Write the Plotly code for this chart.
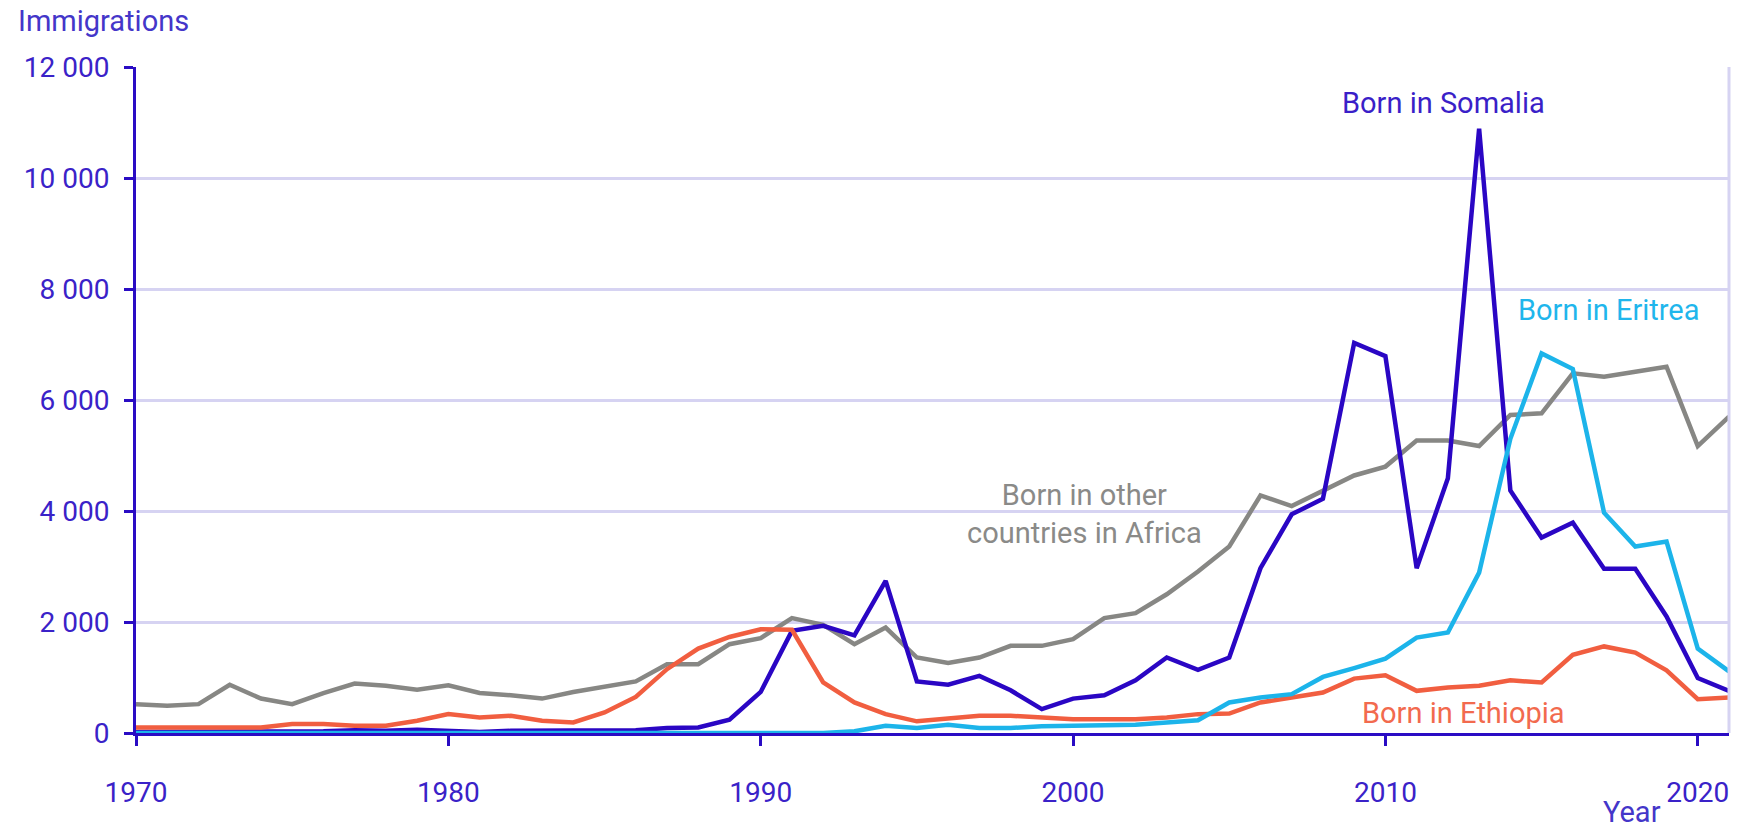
import plotly.graph_objects as go

years = list(range(1970, 2022))

somalia = [20, 20, 20, 20, 20, 30, 30, 50, 40, 60,
           30, 20, 40, 40, 40, 40, 50, 90, 100, 240,
           740, 1840, 1930, 1760, 2740, 930, 870, 1030, 770, 430,
           620, 680, 950, 1360, 1140, 1360, 2970, 3940, 4220, 7030,
           6790, 2970, 4590, 10890, 4370, 3520, 3790, 2960, 2960, 2100,
           990, 760]

eritrea = [0, 0, 0, 0, 0, 0, 0, 0, 0, 0,
           0, 0, 0, 0, 0, 0, 0, 0, 0, 0,
           0, 0, 0, 30, 130, 90, 150, 90, 90, 120,
           130, 130, 150, 190, 230, 550, 640, 700, 1010, 1170,
           1340, 1720, 1810, 2890, 5300, 6840, 6560, 3970, 3360, 3450,
           1520, 1110]

ethiopia = [100, 100, 100, 100, 100, 160, 160, 130, 130, 220,
            340, 280, 310, 220, 190, 370, 650, 1150, 1520, 1730,
            1870, 1860, 910, 550, 340, 210, 250, 310, 310, 280,
            250, 250, 250, 280, 340, 350, 550, 640, 730, 980,
            1040, 760, 820, 850, 950, 910, 1410, 1560, 1450, 1130,
            610, 640]

other_africa = [520, 490, 520, 870, 620, 520, 720, 890, 850, 780,
                860, 720, 680, 620, 740, 830, 930, 1240, 1240, 1600,
                1710, 2070, 1950, 1600, 1900, 1360, 1260, 1360, 1570, 1570,
                1690, 2070, 2160, 2500, 2910, 3360, 4280, 4090, 4360, 4640,
                4800, 5270, 5270, 5170, 5730, 5760, 6480, 6420, 6510, 6600,
                5170, 5700]

x_ticks = [1970, 1980, 1990, 2000, 2010, 2020]
y_ticks = [0, 2000, 4000, 6000, 8000, 10000, 12000]
y_tick_labels = ["0", "2 000", "4 000", "6 000", "8 000", "10 000", "12 000"]

BLUE = "#2a0cc4"
TEXT = "#3a22c8"
GRID = "#d6d3f2"
FONT = "Roboto"

fig = go.Figure()
fig.add_trace(go.Scatter(x=years, y=other_africa, mode="lines",
                         line=dict(color="#878784", width=4.5)))
fig.add_trace(go.Scatter(x=years, y=somalia, mode="lines",
                         line=dict(color="#2a06c4", width=4.5)))
fig.add_trace(go.Scatter(x=years, y=ethiopia, mode="lines",
                         line=dict(color="#f15e40", width=4.5)))
fig.add_trace(go.Scatter(x=years, y=eritrea, mode="lines",
                         line=dict(color="#1cb4ea", width=4.5)))

# right border of plot area
fig.add_shape(type="line", xref="paper", yref="paper", x0=1, x1=1, y0=0, y1=1,
              line=dict(color=GRID, width=3))

# series labels
fig.add_annotation(x=2011.87, y=11343, text="Born in Somalia", showarrow=False,
                   font=dict(family=FONT, size=29, color="#3a1fc8"))
fig.add_annotation(x=2017.15, y=7616, text="Born in Eritrea", showarrow=False,
                   font=dict(family=FONT, size=29, color="#1fb6ec"))
fig.add_annotation(x=2000.38, y=3943, text="Born in other<br>countries in Africa",
                   showarrow=False, align="center",
                   font=dict(family=FONT, size=29, color="#8a8a88"))
fig.add_annotation(x=2012.51, y=360, text="Born in Ethiopia", showarrow=False,
                   font=dict(family=FONT, size=29, color="#f26a4e"))

# axis titles
fig.add_annotation(x=-0.0753, y=1.0698, xref="paper", yref="paper", text="Immigrations",
                   showarrow=False, xanchor="left", yanchor="middle",
                   font=dict(family=FONT, size=29, color="#4436c9"))
fig.add_annotation(x=0.939, y=-0.118, xref="paper", yref="paper", text="Year",
                   showarrow=False, xanchor="center", yanchor="middle",
                   font=dict(family=FONT, size=29, color="#4436c9"))

fig.update_layout(
    width=1737,
    height=829,
    autosize=False,
    showlegend=False,
    plot_bgcolor="white",
    paper_bgcolor="white",
    margin=dict(l=136, r=8, t=66.5, b=96, pad=0),
    font=dict(family=FONT, size=28, color=TEXT),
    xaxis=dict(
        range=[1970, 2021],
        tickvals=x_ticks,
        showgrid=False,
        zeroline=False,
        showline=True,
        linecolor=BLUE,
        linewidth=3,
        ticks="outside",
        ticklen=10,
        tickwidth=3,
        tickcolor=BLUE,
        ticklabelstandoff=22,
        tickfont=dict(family=FONT, size=28, color=TEXT),
    ),
    yaxis=dict(
        range=[0, 12000],
        tickvals=y_ticks,
        ticktext=y_tick_labels,
        showgrid=True,
        gridcolor=GRID,
        gridwidth=3,
        zeroline=False,
        showline=True,
        linecolor=BLUE,
        linewidth=3,
        ticks="outside",
        ticklen=9,
        tickwidth=3,
        tickcolor=BLUE,
        ticklabelstandoff=9,
        tickfont=dict(family=FONT, size=28, color=TEXT),
    ),
)

fig.write_html("out.html", config={"displayModeBar": False},
               post_script="document.body.style.margin='0px';")
